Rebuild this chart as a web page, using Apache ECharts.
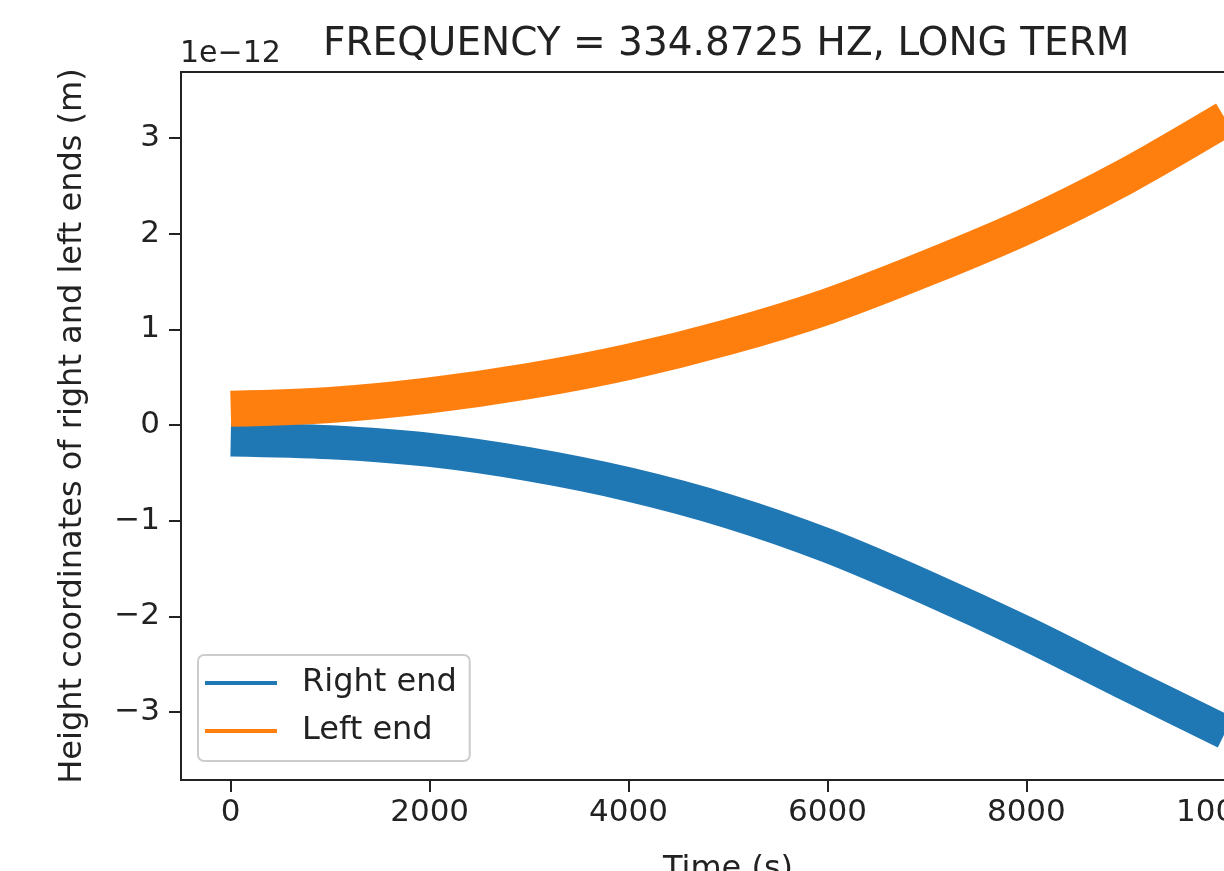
<!DOCTYPE html>
<html>
<head>
<meta charset="utf-8">
<script src="https://cdn.jsdelivr.net/npm/echarts@6/dist/echarts.min.js"></script>
<style>
  html, body { margin: 0; padding: 0; background: #fff; overflow: hidden; }
  /* the reference is cropped on the right: the plot box runs past the window edge */
  #chart { width: 1290px; height: 871px; }
</style>
</head>
<body>
<div id="chart"></div>
<script>
// time in seconds, heights in units of 1e-12 m
const times = [0, 1000, 2000, 3000, 4000, 5000, 6000, 7000, 8000, 9000, 10000]
const rightEnd = [-0.15, -0.18, -0.26, -0.41, -0.62, -0.90, -1.26, -1.70, -2.18, -2.70, -3.21]
const leftEnd = [0.17, 0.21, 0.31, 0.46, 0.66, 0.92, 1.24, 1.64, 2.08, 2.60, 3.20]
const xTicks = [0, 2000, 4000, 6000, 8000, 10000]
const yTicks = [-3, -2, -1, 0, 1, 2, 3]

const font = 'DejaVu Sans'
const minus = v => (v < 0 ? '\u2212' + Math.abs(v) : String(v))

const chart = echarts.init(document.getElementById('chart'))

const axisCommon = {
  type: 'value',
  splitLine: { show: false },
  axisLine: { show: true, onZero: false, lineStyle: { color: '#222', width: 2 } },
  axisTick: { show: true, length: 12, lineStyle: { color: '#222', width: 2 } },
  axisLabel: { color: '#222', fontFamily: font, fontSize: 31, formatter: minus },
  nameTextStyle: { color: '#222', fontFamily: font, fontSize: 32 },
  nameLocation: 'middle'
}

chart.setOption({
  animation: false,
  title: [
    {
      text: 'FREQUENCY = 334.8725 HZ, LONG TERM',
      left: 323,
      top: 25,
      padding: 0,
      textStyle: { fontFamily: font, fontSize: 39, fontWeight: 'normal', color: '#222' }
    },
    {
      text: '1e\u221212',
      left: 180,
      top: 39,
      padding: 0,
      textStyle: { fontFamily: font, fontSize: 30, fontWeight: 'normal', color: '#222' }
    }
  ],
  grid: {
    left: 181, top: 72, right: 15, bottom: 91,
    outerBoundsMode: 'none',
    show: true, borderColor: '#222', borderWidth: 2
  },
  legend: {
    orient: 'vertical',
    left: 198,
    top: 655,
    icon: 'rect',
    itemWidth: 72,
    itemHeight: 4,
    itemGap: 16,
    padding: [12, 13, 14, 7],
    backgroundColor: 'rgba(255,255,255,0.8)',
    borderColor: '#cccccc',
    borderWidth: 2,
    borderRadius: 6,
    textStyle: { fontFamily: font, fontSize: 32, color: '#222', lineHeight: 32, padding: [0, 0, 0, 20] },
    data: ['Right end', 'Left end']
  },
  xAxis: {
    ...axisCommon,
    min: -500,
    max: 10500,
    name: 'Time (s)',
    nameGap: 74,
    axisLabel: { ...axisCommon.axisLabel, margin: 17, customValues: xTicks },
    axisTick: { ...axisCommon.axisTick, customValues: xTicks }
  },
  yAxis: {
    ...axisCommon,
    min: -3.71,
    max: 3.69,
    name: 'Height coordinates of right and left ends (m)',
    nameGap: 92,
    axisLabel: { ...axisCommon.axisLabel, margin: 21, customValues: yTicks },
    axisTick: { ...axisCommon.axisTick, customValues: yTicks }
  },
  series: [
    {
      name: 'Right end',
      type: 'line',
      data: times.map((t, i) => [t, rightEnd[i]]),
      smooth: 0.3,
      symbol: 'none',
      color: '#1f77b4',
      lineStyle: { width: 34, color: '#1f77b4', cap: 'butt', join: 'round' }
    },
    {
      name: 'Left end',
      type: 'line',
      data: times.map((t, i) => [t, leftEnd[i]]),
      smooth: 0.3,
      symbol: 'none',
      color: '#ff7f0e',
      lineStyle: { width: 36, color: '#ff7f0e', cap: 'butt', join: 'round' }
    }
  ]
})
</script>
</body>
</html>
